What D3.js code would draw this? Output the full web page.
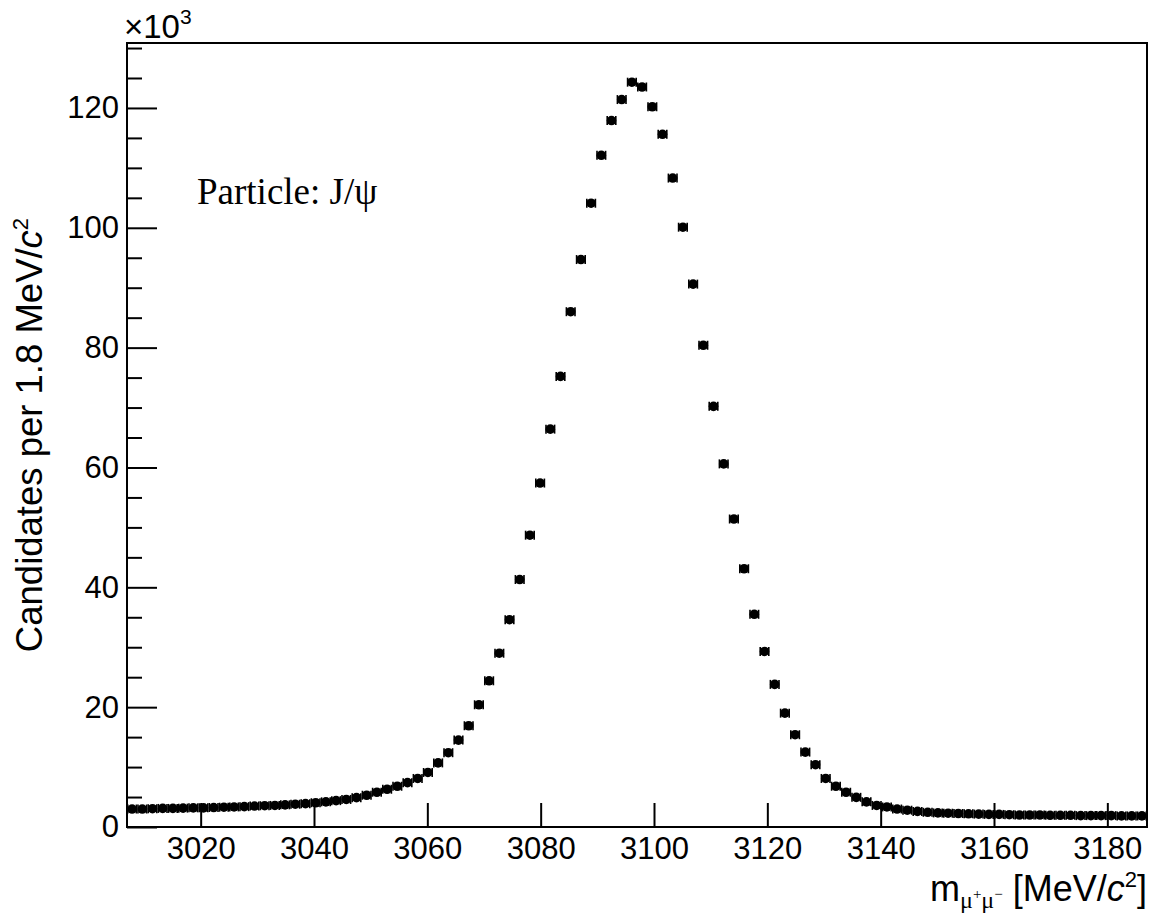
<!DOCTYPE html>
<html>
<head>
<meta charset="utf-8">
<script src="https://cdn.jsdelivr.net/npm/d3@7"></script>
<style>
  body { margin: 0; background: #fff; }
  text { font-family: "Liberation Sans", Arial, Helvetica, sans-serif; fill: #000; }
</style>
</head>
<body>
<svg id="chart" width="1150" height="914"></svg>
<script>
// histogram binning (MeV/c^2)
const binLow = 3007, binWidth = 1.8;
// candidates per bin, in thousands
const counts = [
  3.0, 3.0, 3.05, 3.1, 3.1, 3.15, 3.2, 3.2, 3.25, 3.3,
  3.35, 3.4, 3.5, 3.55, 3.6, 3.7, 3.8, 3.9, 4.05, 4.2,
  4.4, 4.6, 4.9, 5.3, 5.8, 6.3, 6.8, 7.4, 8.1, 9.1,
  10.7, 12.4, 14.5, 16.9, 20.4, 24.4, 29.0, 34.6, 41.3, 48.7,
  57.4, 66.4, 75.2, 86.0, 94.7, 104.1, 112.1, 117.9, 121.4, 124.3,
  123.5, 120.2, 115.6, 108.3, 100.1, 90.6, 80.4, 70.2, 60.6, 51.4,
  43.1, 35.5, 29.3, 23.8, 19.0, 15.4, 12.5, 10.4, 8.1, 6.8,
  5.8, 4.95, 4.2, 3.6, 3.35, 3.0, 2.8, 2.6, 2.45, 2.35,
  2.3, 2.25, 2.2, 2.15, 2.1, 2.1, 2.05, 2.0, 2.0, 2.0,
  1.95, 1.95, 1.95, 1.9, 1.9, 1.9, 1.9, 1.85, 1.85, 1.85
];
const xTicks = [3020, 3040, 3060, 3080, 3100, 3120, 3140, 3160, 3180];
const yTicks = [0, 20, 40, 60, 80, 100, 120];
const yMinor = [5, 10, 15, 25, 30, 35, 45, 50, 55, 65, 70, 75, 85, 90, 95, 105, 110, 115, 125, 130];

const frame = {left: 127, right: 1147, top: 43, bottom: 827};
const serif = '"Liberation Serif", "Times New Roman", Times, serif';

const svg = d3.select("#chart");

const x = d3.scaleLinear()
    .domain([binLow, binLow + binWidth * counts.length])
    .range([frame.left, frame.right]);
const y = d3.scaleLinear()
    .domain([0, 130.84])
    .range([frame.bottom, frame.top]);

// x axis: major ticks only, pointing up into the frame
const xAxis = d3.axisBottom(x)
    .tickValues(xTicks)
    .tickSize(-24)
    .tickPadding(10)
    .tickFormat(d3.format("d"));
const gx = svg.append("g")
    .attr("transform", "translate(0," + frame.bottom + ")")
    .call(xAxis);
gx.select(".domain").remove();
gx.selectAll(".tick line").attr("stroke", "#000").attr("stroke-width", 2);
gx.selectAll(".tick text").attr("font-size", 31);

// y axis: major + minor ticks pointing right
const yAxis = d3.axisLeft(y)
    .tickValues(yTicks)
    .tickSize(-30)
    .tickPadding(8)
    .tickFormat(d3.format("d"));
const gy = svg.append("g")
    .attr("transform", "translate(" + frame.left + ",0)")
    .call(yAxis);
gy.select(".domain").remove();
gy.selectAll(".tick line").attr("stroke", "#000").attr("stroke-width", 2);
gy.selectAll(".tick text").attr("font-size", 31);

const gyMinor = svg.append("g")
    .attr("transform", "translate(" + frame.left + ",0)")
    .call(d3.axisLeft(y).tickValues(yMinor).tickSize(-15).tickFormat(""));
gyMinor.select(".domain").remove();
gyMinor.selectAll(".tick line").attr("stroke", "#000").attr("stroke-width", 2);

// frame
svg.append("rect")
    .attr("x", frame.left)
    .attr("y", frame.top)
    .attr("width", frame.right - frame.left)
    .attr("height", frame.bottom - frame.top)
    .attr("fill", "none")
    .attr("stroke", "#000")
    .attr("stroke-width", 2);

// data points with error bars
const pts = counts.map((v, i) => ({
    c: binLow + binWidth * (i + 0.5),
    lo: binLow + binWidth * i,
    hi: binLow + binWidth * (i + 1),
    v: v,
    e: Math.sqrt(v * 1000) / 1000
}));

const marks = svg.append("g").selectAll("g")
    .data(pts)
    .enter().append("g");

marks.append("line")
    .attr("x1", d => x(d.lo) + 0.8).attr("x2", d => x(d.hi) - 0.8)
    .attr("y1", d => y(d.v)).attr("y2", d => y(d.v))
    .attr("stroke", "#000").attr("stroke-width", 2);
marks.append("line")
    .attr("x1", d => x(d.c)).attr("x2", d => x(d.c))
    .attr("y1", d => y(d.v - d.e)).attr("y2", d => y(d.v + d.e))
    .attr("stroke", "#000").attr("stroke-width", 2);
// end caps
[["lo", 0.8], ["hi", -0.8]].forEach(([k, off]) => {
    marks.append("line")
        .attr("x1", d => x(d[k]) + off).attr("x2", d => x(d[k]) + off)
        .attr("y1", d => y(d.v) - 4.5).attr("y2", d => y(d.v) + 4.5)
        .attr("stroke", "#000").attr("stroke-width", 1.6);
});
marks.append("circle")
    .attr("cx", d => x(d.c))
    .attr("cy", d => y(d.v))
    .attr("r", 4.8)
    .attr("fill", "#000");

// exponent label
const expo = svg.append("text")
    .attr("x", frame.left - 3)
    .attr("y", 38)
    .attr("font-size", 33);
expo.append("tspan").text("\u00d710");
expo.append("tspan").attr("font-size", 21).attr("dy", -14).text("3");

// y title
const yt = svg.append("text")
    .attr("transform", "translate(42," + ((frame.top + frame.bottom) / 2) + ") rotate(-90)")
    .attr("text-anchor", "middle")
    .attr("font-size", 36.5);
yt.append("tspan").text("Candidates per 1.8 MeV/");
yt.append("tspan").attr("font-style", "italic").text("c");
yt.append("tspan").attr("font-size", 22).attr("dy", -14).text("2");

// x title
const xt = svg.append("text")
    .attr("x", frame.right)
    .attr("y", 901)
    .attr("text-anchor", "end")
    .attr("font-size", 36);
xt.append("tspan").text("m");
xt.append("tspan").style("font-family", serif).attr("font-size", 24).attr("dy", 7).text("\u03bc");
xt.append("tspan").style("font-family", serif).attr("font-size", 15).attr("dy", -9).text("+");
xt.append("tspan").style("font-family", serif).attr("font-size", 24).attr("dy", 9).text("\u03bc");
xt.append("tspan").style("font-family", serif).attr("font-size", 15).attr("dy", -9).text("\u2212");
xt.append("tspan").attr("dy", 2).text(" [MeV/");
xt.append("tspan").attr("font-style", "italic").text("c");
xt.append("tspan").attr("font-size", 22).attr("dy", -14).text("2");
xt.append("tspan").attr("dy", 14).text("]");

// particle label
svg.append("text")
    .attr("x", 197)
    .attr("y", 204)
    .style("font-family", serif)
    .attr("font-size", 37)
    .text("Particle: J/\u03c8");
</script>
</body>
</html>
